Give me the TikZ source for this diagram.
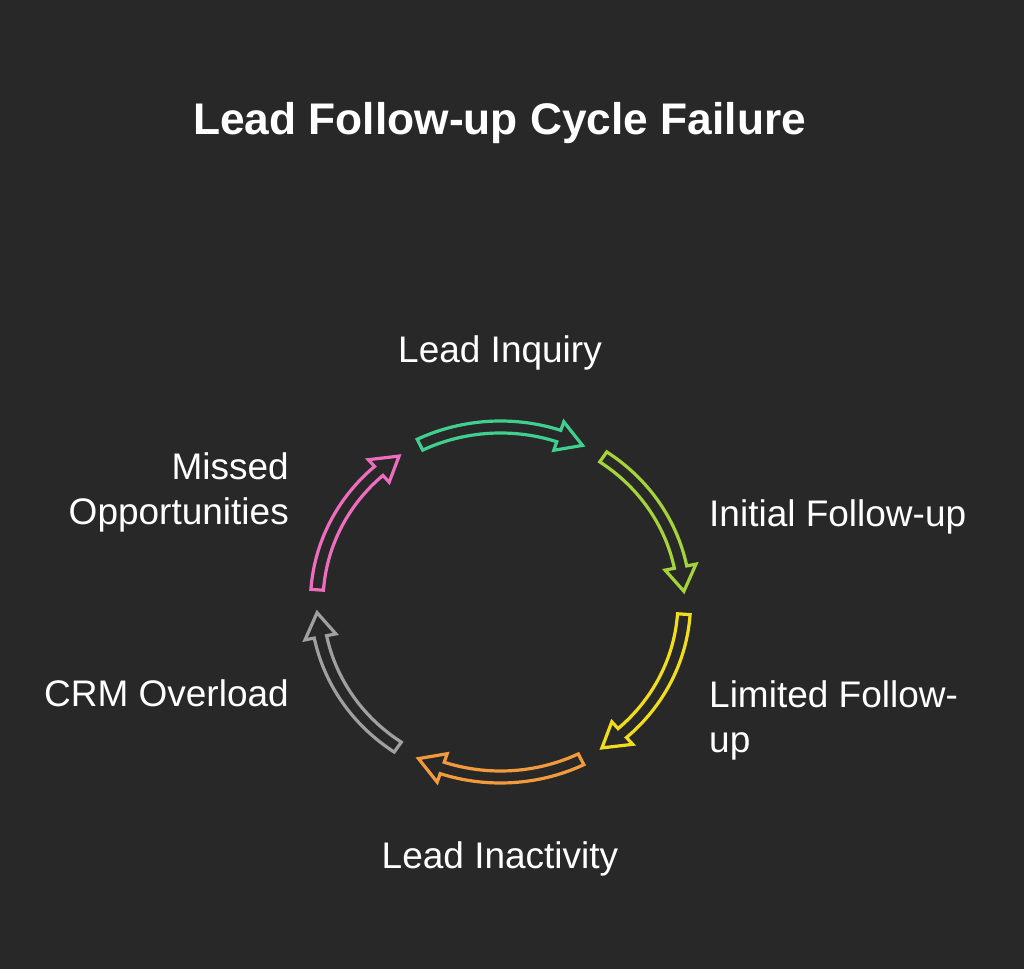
\documentclass[tikz,border=0pt]{standalone}
\usepackage{fontspec}
\setmainfont{Liberation Sans}
\definecolor{bgc}{HTML}{282828}
\definecolor{cgreen}{HTML}{3FCF8E}
\definecolor{clime}{HTML}{A5D43A}
\definecolor{cyellow}{HTML}{F2DD1C}
\definecolor{corange}{HTML}{F29A3C}
\definecolor{cgray}{HTML}{A0A0A0}
\definecolor{cpink}{HTML}{EE6DBE}
\newcommand{\cycarrow}[2]{%
  \draw[arrowline, draw=#2]
    ({#1+26}:181) arc[start angle={#1+26}, end angle={#1-18.5}, radius=181]
    -- ({#1-18.5}:190) -- ({#1-26.5}:175) -- ({#1-18.5}:160)
    -- ({#1-18.5}:169) arc[start angle={#1-18.5}, end angle={#1+26}, radius=169]
    -- cycle;}
\begin{document}
\begin{tikzpicture}[x=1pt,y=1pt,
  arrowline/.style={line width=3.2pt, line join=miter},
  lbl/.style={text=white, inner sep=0pt, font=\fontsize{37}{45}\selectfont},
  ttl/.style={text=white, inner sep=0pt, font=\fontsize{44.3}{50}\selectfont\bfseries}]
\fill[bgc] (0,0) rectangle (1024,969);
\useasboundingbox (0,0) rectangle (1024,969);
\node[ttl, anchor=base] (title) at (499.5,834) {Lead Follow-up Cycle Failure};
\begin{scope}[shift={(500.5,367)}, xscale=1.05]
  \cycarrow{90}{cgreen}
  \cycarrow{30}{clime}
  \cycarrow{-30}{cyellow}
  \cycarrow{-90}{corange}
  \cycarrow{-150}{cgray}
  \cycarrow{150}{cpink}
\end{scope}
\node[lbl, anchor=base] (inq) at (500,606) {Lead Inquiry};
\node[lbl, anchor=base west] (init) at (709,442) {Initial Follow-up};
\node[lbl, anchor=base west, align=left] (lim) at (709,217) {Limited Follow-\\up};
\node[lbl, anchor=base] (inact) at (500,101) {Lead Inactivity};
\node[lbl, anchor=base east] (crm) at (289,262) {CRM Overload};
\node[lbl, anchor=base east, align=right] (miss) at (289,444) {Missed\\Opportunities};
\end{tikzpicture}
\end{document}
